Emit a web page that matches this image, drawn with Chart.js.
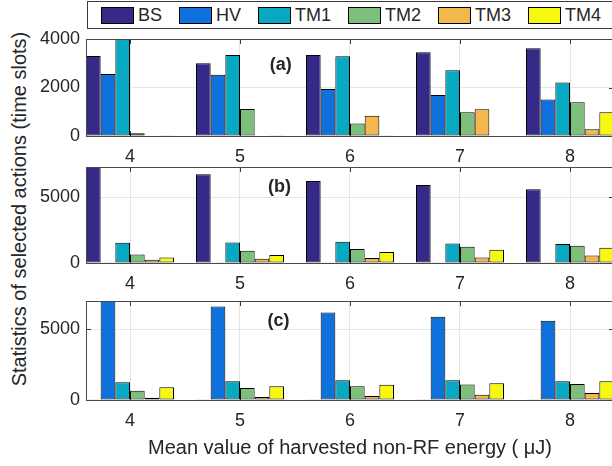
<!DOCTYPE html>
<html>
<head>
<meta charset="utf-8">
<script src="https://cdn.jsdelivr.net/npm/chart.js@4/dist/chart.umd.min.js"></script>
<style>
  body { margin: 0; width: 612px; height: 466px; overflow: hidden; position: relative; background: #fff;
         font-family: "Liberation Sans", Arial, sans-serif; color: #262626; }
  canvas { position: absolute; left: 0; }
  #legend { position: absolute; left: 87px; top: 1px; width: 560px; height: 28px; border: 1px solid #3a3a3a;
            background: #fff; display: flex; align-items: center; box-sizing: border-box; padding-left: 13px; gap: 17px; z-index: 2; }
  #legend .item { display: flex; align-items: center; font-size: 18px; }
  #legend .sw { width: 31px; height: 15px; border: 1px solid #000; margin-right: 4px; }
  #ytitle { position: absolute; left: 19px; top: 209px; transform: translate(-50%, -50%) rotate(-90deg);
            white-space: nowrap; font-size: 20px; }
</style>
</head>
<body>
<div id="legend"></div>
<div id="ytitle">Statistics of selected actions (time slots)</div>
<canvas id="chartA" width="614" height="170" style="top:0px"></canvas>
<canvas id="chartB" width="614" height="160" style="top:140px"></canvas>
<canvas id="chartC" width="614" height="196" style="top:270px"></canvas>
<script>
// mean harvested non-RF energy (uJ)
const energy = [4, 5, 6, 7, 8];
const series = ['BS', 'HV', 'TM1', 'TM2', 'TM3', 'TM4'];
const colors = ['#352a87', '#0f71dc', '#06a9c1', '#7cc07c', '#f3b84b', '#f8f80f'];

// (a)
const aBS  = [3300, 3000, 3340, 3450, 3615];
const aHV  = [2560, 2530, 1940, 1690, 1510];
const aTM1 = [4000, 3340, 3290, 2710, 2210];
const aTM2 = [110, 1110, 520, 980, 1390];
const aTM3 = [25, 20, 830, 1100, 280];
const aTM4 = [15, 15, 15, 20, 980];
const aTicks = [0, 2000, 4000];

// (b)
const bBS  = [7500, 6740, 6240, 5930, 5600];
const bHV  = [15, 15, 15, 15, 15];
const bTM1 = [1540, 1560, 1615, 1485, 1440];
const bTM2 = [650, 930, 1060, 1235, 1310];
const bTM3 = [250, 325, 380, 425, 575];
const bTM4 = [425, 600, 830, 1010, 1160];
const bTicks = [0, 5000];

// (c)
const cBS  = [15, 15, 15, 15, 15];
const cHV  = [7200, 6610, 6190, 5890, 5605];
const cTM1 = [1260, 1330, 1400, 1400, 1330];
const cTM2 = [650, 840, 980, 1095, 1140];
const cTM3 = [160, 210, 280, 370, 490];
const cTM4 = [910, 980, 1070, 1190, 1330];
const cTicks = [0, 5000];

const textColor = '#262626';
const font = { family: '"Liberation Sans", Arial, sans-serif', size: 18 };

// legend (shared by the three panels)
const legend = document.getElementById('legend');
series.forEach((name, i) => {
    const item = document.createElement('div');
    item.className = 'item';
    item.innerHTML = '<div class="sw" style="background:' + colors[i] + '"></div>' + name;
    legend.appendChild(item);
});

// MATLAB-like box with inward ticks + panel label
const axesBox = {
    id: 'axesBox',
    beforeDatasetsDraw(chart) {
        const { ctx, chartArea: a, scales } = chart;
        ctx.save();
        ctx.strokeStyle = '#3a3a3a';
        ctx.lineWidth = 1;
        ctx.beginPath();
        scales.x.ticks.forEach(t => {
            const px = Math.round(scales.x.getPixelForValue(t.value)) + 0.5;
            ctx.moveTo(px, a.top); ctx.lineTo(px, a.top + 5);
            ctx.moveTo(px, a.bottom); ctx.lineTo(px, a.bottom - 5);
        });
        scales.y.ticks.forEach(t => {
            const py = Math.round(scales.y.getPixelForValue(t.value)) + 0.5;
            ctx.moveTo(a.left, py); ctx.lineTo(a.left + 5, py);
            ctx.moveTo(a.right, py); ctx.lineTo(a.right - 5, py);
        });
        ctx.stroke();
        ctx.restore();
    },
    afterDatasetsDraw(chart, args, opts) {
        const { ctx, chartArea: a, scales } = chart;
        ctx.save();
        ctx.strokeStyle = '#4a4a4a';
        ctx.lineWidth = 1;
        ctx.strokeRect(Math.round(a.left) + 0.5, Math.round(a.top) + 0.5,
                       Math.round(a.right - a.left), Math.round(a.bottom - a.top));
        ctx.fillStyle = textColor;
        ctx.font = 'bold 18px "Liberation Sans", Arial, sans-serif';
        ctx.textAlign = 'center';
        ctx.textBaseline = 'middle';
        ctx.fillText(opts.text, scales.x.getPixelForValue(opts.x), scales.y.getPixelForValue(opts.y));
        ctx.restore();
    }
};

function makeChart(id, values, yMax, yTicks, panel, pad, xHeight, withTitle) {
    return new Chart(document.getElementById(id), {
        type: 'bar',
        data: {
            datasets: series.map((name, i) => ({
                label: name,
                data: energy.map((e, j) => ({ x: e, y: values[i][j] })),
                backgroundColor: colors[i],
                borderColor: '#000',
                borderWidth: 1,
                borderSkipped: false,
                categoryPercentage: 0.8,
                barPercentage: 1.0
            }))
        },
        options: {
            responsive: false,
            animation: false,
            layout: { padding: pad },
            plugins: {
                legend: { display: false },
                tooltip: { enabled: false },
                axesBox: panel
            },
            scales: {
                x: {
                    type: 'linear',
                    min: 3.6,
                    max: 8.4,
                    offset: false,
                    afterBuildTicks: s => { s.ticks = energy.map(v => ({ value: v })); },
                    afterFit: s => { s.height = xHeight; },
                    ticks: { color: textColor, font: font, padding: 10, callback: v => String(v) },
                    grid: { color: '#e6e6e6', drawTicks: false, offset: false },
                    border: { display: false },
                    title: {
                        display: withTitle,
                        text: 'Mean value of harvested non-RF energy ( \u03bcJ)',
                        color: textColor,
                        font: { family: font.family, size: 20 },
                        padding: 0
                    }
                },
                y: {
                    min: 0,
                    max: yMax,
                    afterBuildTicks: s => { s.ticks = yTicks.map(v => ({ value: v })); },
                    afterFit: s => { s.width = 86; },
                    ticks: { color: textColor, font: font, padding: 6, callback: v => String(v) },
                    grid: { color: '#e6e6e6', drawTicks: false },
                    border: { display: false }
                }
            }
        },
        plugins: [axesBox]
    });
}

makeChart('chartA', [aBS, aHV, aTM1, aTM2, aTM3, aTM4], 4000, aTicks,
    { text: '(a)', x: 5.37, y: 2930 }, { top: 39, bottom: 6, left: 0, right: 0 }, 28, false);
makeChart('chartB', [bBS, bHV, bTM1, bTM2, bTM3, bTM4], 7300, bTicks,
    { text: '(b)', x: 5.36, y: 5800 }, { top: 27, bottom: 9, left: 0, right: 0 }, 28, false);
makeChart('chartC', [cBS, cHV, cTM1, cTM2, cTM3, cTM4], 7000, cTicks,
    { text: '(c)', x: 5.35, y: 5570 }, { top: 31, bottom: 6, left: 0, right: 0 }, 60, true);
</script>
</body>
</html>
